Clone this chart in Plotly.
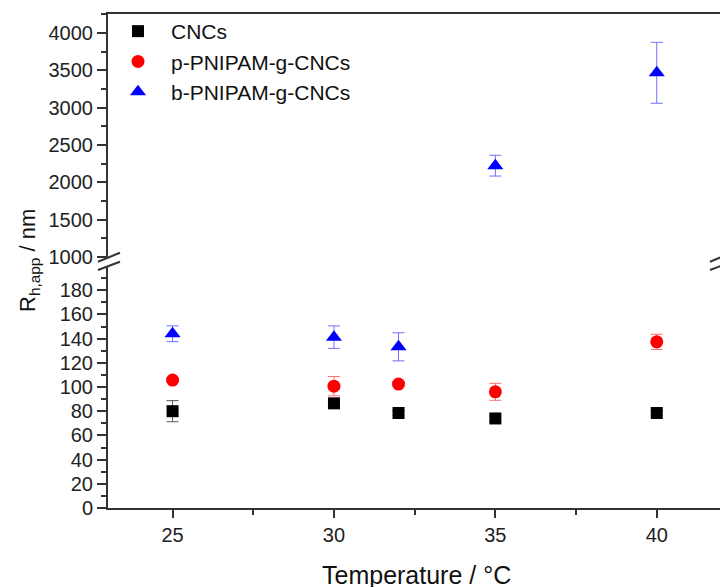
import plotly.graph_objects as go

# ---------------- data ----------------
temperature = [25, 30, 32, 35, 40]
cncs = [80, 86.5, 78.5, 74, 78.5]
cncs_err = [8.7, 2, 2, 2, 2]
p_pnipam = [105.7, 100.7, 102.4, 96, 137.3]
p_pnipam_err = [2, 8, 2, 7, 6.3]
b_pnipam = [144, 141.2, 133.2, 2223, 3467]
b_pnipam_err = [6.5, 9.3, 11.6, 139, 408]

lower_ticks = [0, 20, 40, 60, 80, 100, 120, 140, 160, 180]
upper_ticks = [1000, 1500, 2000, 2500, 3000, 3500, 4000]
x_ticks = [25, 30, 35, 40]
BREAK = 200  # values above go on the upper (broken) axis

W, H = 720, 587
L, T, B = 108, 14, 79
pw = W - L
ph = H - T - B


def px(x):
    return (x - L) / pw


def py(y):
    return (H - B - y) / ph


axis_col = "#333333"
font_fam = "Liberation Sans, Arial, sans-serif"

fig = go.Figure()


def add_series(name, vals, errs, symbol, color, ecolor, size):
    lo = [(t, v, e) for t, v, e in zip(temperature, vals, errs) if v <= BREAK]
    hi = [(t, v, e) for t, v, e in zip(temperature, vals, errs) if v > BREAK]
    fig.add_trace(go.Scatter(
        x=[a[0] for a in lo], y=[a[1] for a in lo], mode="markers", name=name,
        marker=dict(symbol=symbol, color=color, size=size, line=dict(width=0)),
        error_y=dict(type="data", array=[a[2] for a in lo], color=ecolor, thickness=1, width=6),
        xaxis="x", yaxis="y", showlegend=True))
    if hi:
        fig.add_trace(go.Scatter(
            x=[a[0] for a in hi], y=[a[1] for a in hi], mode="markers", name=name,
            marker=dict(symbol=symbol, color=color, size=size, line=dict(width=0)),
            error_y=dict(type="data", array=[a[2] for a in hi], color=ecolor, thickness=1, width=6),
            xaxis="x2", yaxis="y2", showlegend=False))


add_series("CNCs", cncs, cncs_err, "square", "#000000", "#555555", 12)
add_series("p-PNIPAM-g-CNCs", p_pnipam, p_pnipam_err, "circle", "#ff0000", "#ff7070", 13)
add_series("b-PNIPAM-g-CNCs", b_pnipam, b_pnipam_err, "triangle-up", "#0000ff", "#7070ff", 14)

xr = [23, 23 + pw / 32.28]
lower_dom_top = py(266)
upper_dom_bot = py(257)
upper_top_val = 1000 + (257 - 14) / (224 / 3000)

tick_font = dict(size=20, color="#222222")

fig.update_layout(
    width=W, height=H,
    margin=dict(l=L, r=0, t=T, b=B),
    paper_bgcolor="white", plot_bgcolor="white",
    font=dict(family=font_fam, color="#222222", size=20),
    xaxis=dict(domain=[0, 1], range=xr, anchor="y", showline=True, linecolor=axis_col,
               linewidth=2, ticks="outside", ticklen=8, tickwidth=1.5, tickcolor=axis_col,
               tickvals=x_ticks, showgrid=False, zeroline=False, automargin=False,
               minor=dict(tickvals=[27.5, 32.5, 37.5], ticks="outside", ticklen=5,
                          tickwidth=1.5, tickcolor=axis_col),
               tickfont=tick_font),
    xaxis2=dict(domain=[0, 1], range=xr, anchor="y2", side="top", showline=True,
                linecolor=axis_col, linewidth=2, ticks="", showticklabels=False,
                showgrid=False, zeroline=False, matches="x"),
    yaxis=dict(domain=[0, lower_dom_top], range=[0, BREAK], anchor="x", showline=True,
               linecolor=axis_col, linewidth=2, ticks="outside", ticklen=9, tickwidth=1.5,
               tickcolor=axis_col, tickvals=lower_ticks, showgrid=False, zeroline=False,
               automargin=False, ticklabelstandoff=0,
               minor=dict(tickvals=[10, 30, 50, 70, 90, 110, 130, 150, 170, 190],
                          ticks="outside", ticklen=5, tickwidth=1.5, tickcolor=axis_col),
               tickfont=tick_font),
    yaxis2=dict(domain=[upper_dom_bot, 1], range=[1000, upper_top_val], anchor="x2",
                showline=True, linecolor=axis_col, linewidth=2, ticks="outside", ticklen=9,
                tickwidth=1.5, tickcolor=axis_col, tickvals=upper_ticks, showgrid=False,
                zeroline=False, automargin=False, ticklabelstandoff=0,
                minor=dict(tickvals=[1250, 1750, 2250, 2750, 3250, 3750, 4250],
                           ticks="outside", ticklen=5, tickwidth=1.5, tickcolor=axis_col),
                tickfont=tick_font),
    legend=dict(x=px(105), y=1 + 3 / ph, xanchor="left", yanchor="top",
                bgcolor="rgba(0,0,0,0)",
                font=dict(size=21, color="#111111"), itemwidth=56, tracegroupgap=0),
    showlegend=True,
)

# axis titles
fig.add_annotation(text="R<sub>h,app</sub> / nm", xref="paper", yref="paper",
                   x=px(29), y=py(260), textangle=-90, showarrow=False,
                   font=dict(size=22, color="#111111"), xanchor="center", yanchor="middle")
fig.add_annotation(text="Temperature / °C", xref="paper", yref="paper",
                   x=px(416), y=py(575), showarrow=False,
                   font=dict(size=25, color="#111111"), xanchor="center", yanchor="middle")

# axis break marks
for cx in (109, 721):
    for (y1, y2) in ((261.7, 252.7), (270, 261.7)):
        fig.add_shape(type="line", xref="paper", yref="paper",
                      x0=px(cx - 11), y0=py(y1), x1=px(cx + 11), y1=py(y2),
                      line=dict(color=axis_col, width=2))

fig.write_html("out.html", config={"displayModeBar": False},
               post_script="document.body.style.margin='0px';document.body.style.padding='0px';")
